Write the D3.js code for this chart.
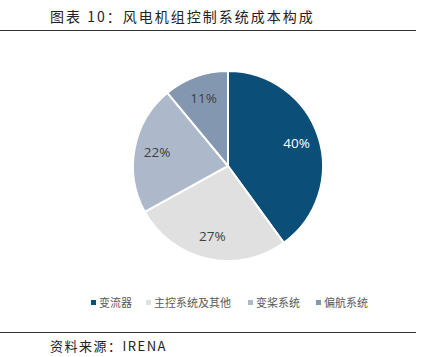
<!DOCTYPE html>
<html><head><meta charset="utf-8">
<script src="https://cdn.jsdelivr.net/npm/d3@7"></script>
<style>body{margin:0;background:#fff}svg{display:block}</style>
</head><body>
<svg id="c" width="430" height="357"></svg>
<script>
const categories = ["变流器", "主控系统及其他", "变桨系统", "偏航系统"];
const values = [40, 27, 22, 11];
const colors = ["#0b4f79", "#e0e0e0", "#adb9cb", "#8497b0"];
const labelColors = ["#ffffff", "#404040", "#404040", "#404040"];
const title = "图表 10：风电机组控制系统成本构成";
const source = "资料来源：IRENA";

const svg = d3.select("#c");
svg.append("text").attr("x", 50).attr("y", 22).attr("font-family", "Noto Sans CJK SC")
  .attr("font-size", 14).attr("letter-spacing", 2).attr("fill", "#222").text(title);
svg.append("line").attr("x1", 0).attr("x2", 416).attr("y1", 30.5).attr("y2", 30.5).attr("stroke", "#333").attr("stroke-width", 1);
svg.append("line").attr("x1", 0).attr("x2", 416).attr("y1", 332.5).attr("y2", 332.5).attr("stroke", "#333").attr("stroke-width", 1);
svg.append("text").attr("x", 50).attr("y", 351).attr("font-family", "Noto Sans CJK SC")
  .attr("font-size", 13).attr("letter-spacing", 1.5).attr("fill", "#222").text(source);

const cx = 228, cy = 166, R = 95;
const pie = d3.pie().sort(null).value(d => d);
const arcs = pie(values);
const arc = d3.arc().innerRadius(0).outerRadius(R);
const labelArc = d3.arc().innerRadius(R * 0.76).outerRadius(R * 0.76);
const g = svg.append("g").attr("transform", `translate(${cx},${cy})`);
g.selectAll("path").data(arcs).join("path").attr("d", arc)
  .attr("fill", (d, i) => colors[i]).attr("stroke", "#fff").attr("stroke-width", 2);
g.selectAll("text").data(arcs).join("text")
  .attr("transform", d => `translate(${labelArc.centroid(d)})`)
  .attr("text-anchor", "middle").attr("dy", "0.35em")
  .attr("font-family", "Open Sans").attr("font-size", 13.5)
  .attr("fill", (d, i) => labelColors[i]).text(d => d.data + "%");

const legendX = [91, 146, 248, 316];
const lg = svg.append("g").attr("transform", "translate(0,303)");
categories.forEach((c, i) => {
  lg.append("rect").attr("x", legendX[i]).attr("y", -3).attr("width", 5).attr("height", 5).attr("fill", colors[i]);
  lg.append("text").attr("x", legendX[i] + 8).attr("y", 0).attr("dy", "0.35em")
    .attr("font-family", "Noto Sans CJK SC").attr("font-size", 11).attr("fill", "#595959").text(c);
});
</script>
</body></html>
